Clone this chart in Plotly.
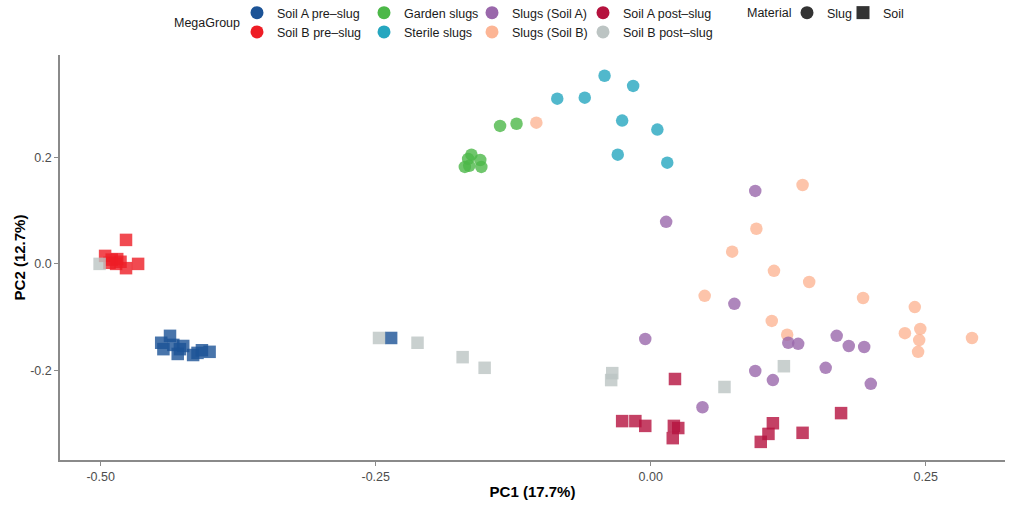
import plotly.graph_objects as go

# ---------------- data ----------------
groups = ["Soil A pre\u2013slug", "Garden slugs", "Slugs (Soil A)", "Soil A post\u2013slug",
          "Soil B pre\u2013slug", "Sterile slugs", "Slugs (Soil B)", "Soil B post\u2013slug"]
colors = ["#1c5396", "#4cb848", "#9a68ab", "#b5123e",
          "#ee1d25", "#25a6bf", "#fcb595", "#bcc4c3"]
material = ["Soil", "Slug", "Slug", "Soil", "Soil", "Slug", "Slug", "Soil"]

soilA_pre_x = [-0.445, -0.437, -0.434, -0.428, -0.425, -0.430, -0.416, -0.412, -0.408, -0.401, -0.443, -0.236]
soilA_pre_y = [-0.148, -0.135, -0.152, -0.160, -0.154, -0.169, -0.171, -0.167, -0.162, -0.165, -0.160, -0.139]

soilB_pre_x = [-0.496, -0.490, -0.485, -0.482, -0.477, -0.477, -0.466, -0.492, -0.486]
soilB_pre_y = [0.015, 0.008, 0.009, 0.004, 0.045, -0.008, 0.000, 0.002, 0.000]

garden_x = [-0.137, -0.122, -0.163, -0.166, -0.155, -0.169, -0.165, -0.154]
garden_y = [0.259, 0.263, 0.205, 0.197, 0.195, 0.182, 0.184, 0.182]

sterile_x = [-0.085, -0.060, -0.042, -0.016, -0.026, 0.006, -0.030, 0.015]
sterile_y = [0.310, 0.312, 0.353, 0.334, 0.269, 0.252, 0.205, 0.190]

slugsA_x = [0.095, 0.014, 0.076, -0.005, 0.125, 0.134, 0.169, 0.180, 0.194, 0.095, 0.111, 0.159, 0.200, 0.047]
slugsA_y = [0.137, 0.079, -0.075, -0.141, -0.148, -0.150, -0.135, -0.154, -0.156, -0.201, -0.218, -0.195, -0.225, -0.269]

slugsB_x = [-0.104, 0.138, 0.096, 0.074, 0.112, 0.144, 0.049, 0.193, 0.240, 0.110, 0.124, 0.231, 0.245, 0.244, 0.243, 0.292]
slugsB_y = [0.265, 0.148, 0.066, 0.023, -0.013, -0.034, -0.060, -0.064, -0.081, -0.107, -0.133, -0.130, -0.122, -0.143, -0.165, -0.139]

soilA_post_x = [0.022, -0.026, -0.014, -0.005, 0.021, 0.025, 0.020, 0.111, 0.107, 0.100, 0.138, 0.173]
soilA_post_y = [-0.216, -0.295, -0.295, -0.304, -0.304, -0.308, -0.327, -0.299, -0.319, -0.334, -0.317, -0.280]

soilB_post_x = [-0.501, -0.247, -0.212, -0.171, -0.151, -0.035, -0.036, 0.067, 0.121]
soilB_post_y = [0.000, -0.139, -0.148, -0.175, -0.195, -0.205, -0.218, -0.231, -0.192]

xs = [soilA_pre_x, garden_x, slugsA_x, soilA_post_x, soilB_pre_x, sterile_x, slugsB_x, soilB_post_x]
ys = [soilA_pre_y, garden_y, slugsA_y, soilA_post_y, soilB_pre_y, sterile_y, slugsB_y, soilB_post_y]

x_tickvals = [-0.50, -0.25, 0.00, 0.25]
x_ticktext = ["-0.50", "-0.25", "0.00", "0.25"]
y_tickvals = [-0.2, 0.0, 0.2]
y_ticktext = ["-0.2", "0.0", "0.2"]

# ---------------- figure ----------------
W, H = 1010, 508
ML, MR, MT, MB = 60, 5, 55, 48
PW, PH = W - ML - MR, H - MT - MB

def px_x(px):
    return (px - ML) / PW

def px_y(py):
    return (H - MB - py) / PH

fig = go.Figure()

# data traces
draw_order = [4, 0, 7, 3, 1, 5, 6, 2]
for i in draw_order:
    fig.add_trace(go.Scatter(
        x=xs[i], y=ys[i], mode="markers", name=groups[i], showlegend=False,
        marker=dict(symbol="circle" if material[i] == "Slug" else "square",
                    size=12.5, color=colors[i], opacity=0.8, line=dict(width=0)),
    ))

# legend entries for MegaGroup (4 vertical legends of 2 items)
legend_ids = ["legend", "legend2", "legend3", "legend4"]
for col in range(4):
    for row in range(2):
        i = row * 4 + col
        fig.add_trace(go.Scatter(
            x=[None], y=[None], mode="markers", name=groups[i], legend=legend_ids[col],
            marker=dict(symbol="circle", size=13, color=colors[i]),
        ))

# Material legend
for name, sym, lid in [("Slug", "circle", "legend5"), ("Soil", "square", "legend6")]:
    fig.add_trace(go.Scatter(
        x=[None], y=[None], mode="markers", name=name, legend=lid,
        marker=dict(symbol=sym, size=13, color="#333333"),
    ))

legend_font = dict(family="Liberation Sans, Arial, sans-serif", size=12.5, color="#1a1a1a")

def lg(px, py, orientation="v"):
    return dict(x=px_x(px), y=px_y(py), xanchor="left", yanchor="top",
                orientation=orientation, font=legend_font,
                bgcolor="rgba(0,0,0,0)", itemwidth=30, tracegroupgap=0)

fig.update_layout(
    width=W, height=H,
    margin=dict(l=ML, r=MR, t=MT, b=MB, autoexpand=False),
    paper_bgcolor="white", plot_bgcolor="white",
    font=dict(family="Liberation Sans, Arial, sans-serif"),
    legend=lg(237, -2),
    legend2=lg(364, -2),
    legend3=lg(472, -2),
    legend4=lg(583, -2),
    legend5=lg(787, -2),
    legend6=lg(843, -2),
    annotations=[
        dict(text="MegaGroup", x=px_x(172), y=px_y(23), xref="paper", yref="paper",
             xanchor="left", yanchor="middle", showarrow=False, font=legend_font),
        dict(text="Material", x=px_x(745), y=px_y(13), xref="paper", yref="paper",
             xanchor="left", yanchor="middle", showarrow=False, font=legend_font),
    ],
    xaxis=dict(range=[-0.537, 0.322], tickvals=x_tickvals, ticktext=x_ticktext,
               showgrid=False, zeroline=False, showline=True, linecolor="#8a8a8a", linewidth=1.5,
               ticks="outside", ticklen=4, tickcolor="#8a8a8a",
               tickfont=dict(size=12.5, color="#4d4d4d"),
               title=dict(text="<b>PC1 (17.7%)</b>", font=dict(size=15, color="#000000"), standoff=4)),
    yaxis=dict(range=[-0.368, 0.392], tickvals=y_tickvals, ticktext=y_ticktext,
               showgrid=False, zeroline=False, showline=True, linecolor="#8a8a8a", linewidth=1.5,
               ticks="outside", ticklen=4, tickcolor="#8a8a8a",
               tickfont=dict(size=12.5, color="#4d4d4d"),
               title=dict(text="<b>PC2 (12.7%)</b>", font=dict(size=15, color="#000000"), standoff=1)),
)

fig.write_html("out.html")
